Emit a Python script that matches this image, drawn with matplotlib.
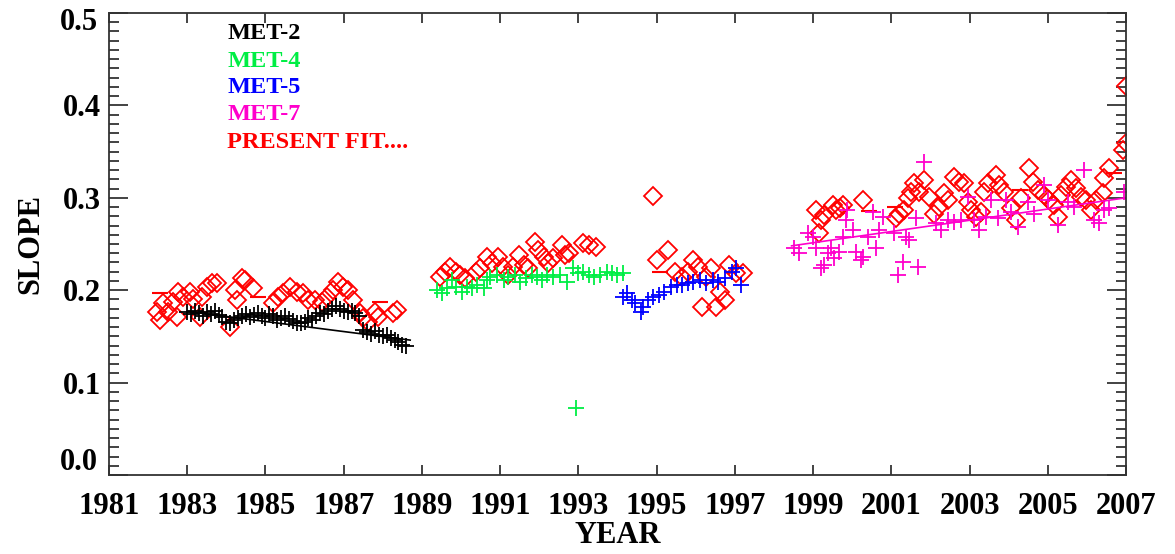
import matplotlib
matplotlib.use("Agg")
import matplotlib.pyplot as plt
from matplotlib.ticker import MultipleLocator, FixedLocator

# ---------------- data ----------------
met2_year = [1983.0, 1983.1, 1983.2, 1983.3, 1983.4, 1983.5, 1983.6, 1983.7, 1983.8, 1983.9,
             1984.0, 1984.1, 1984.2, 1984.3, 1984.4, 1984.5, 1984.6, 1984.7, 1984.8, 1984.9,
             1985.0, 1985.1, 1985.2, 1985.3, 1985.4, 1985.5, 1985.6, 1985.7, 1985.8, 1985.9,
             1986.0, 1986.1, 1986.2, 1986.3, 1986.4, 1986.5, 1986.6, 1986.7, 1986.8, 1986.9,
             1987.0, 1987.1, 1987.2, 1987.3, 1987.4, 1987.5, 1987.6, 1987.7, 1987.8, 1987.9,
             1988.0, 1988.1, 1988.2, 1988.3, 1988.4, 1988.5, 1988.6]
met2_slope = [0.176, 0.174, 0.177, 0.175, 0.172, 0.176, 0.174, 0.178, 0.173, 0.171,
              0.166, 0.165, 0.168, 0.170, 0.172, 0.174, 0.171, 0.173, 0.175, 0.172,
              0.170, 0.174, 0.172, 0.168, 0.170, 0.172, 0.169, 0.167, 0.165, 0.164,
              0.166, 0.170, 0.168, 0.172, 0.175, 0.174, 0.178, 0.180, 0.183, 0.180,
              0.178, 0.176, 0.178, 0.175, 0.172, 0.157, 0.155, 0.153, 0.156, 0.152,
              0.150, 0.152, 0.148, 0.146, 0.144, 0.141, 0.140]
met2_fit_year = [1983.0, 1988.7]
met2_fit_slope = [0.177, 0.146]

met4_year = [1989.39, 1989.52, 1989.65, 1989.78, 1989.86, 1990.03, 1990.16, 1990.29, 1990.42,
             1990.58, 1990.67, 1990.75, 1990.93, 1991.09, 1991.21, 1991.39, 1991.52, 1991.65,
             1991.82, 1991.95, 1992.08, 1992.21, 1992.36, 1992.54, 1992.72, 1992.85, 1992.93,
             1992.98, 1993.13, 1993.26, 1993.39, 1993.56, 1993.74, 1993.87, 1993.99, 1994.15]
met4_slope = [0.200, 0.197, 0.202, 0.211, 0.203, 0.198, 0.203, 0.202, 0.206,
              0.202, 0.211, 0.214, 0.216, 0.211, 0.214, 0.216, 0.209, 0.213,
              0.216, 0.214, 0.211, 0.216, 0.214, 0.216, 0.209, 0.224, 0.073,
              0.219, 0.220, 0.216, 0.214, 0.216, 0.220, 0.219, 0.216, 0.219]

met5_year = [1994.13, 1994.25, 1994.38, 1994.46, 1994.59, 1994.66, 1994.79, 1994.92, 1995.05,
             1995.18, 1995.36, 1995.53, 1995.66, 1995.79, 1995.94, 1996.12, 1996.25, 1996.43,
             1996.58, 1996.76, 1996.94, 1997.02, 1997.15]
met5_slope = [0.193, 0.197, 0.189, 0.186, 0.176, 0.182, 0.189, 0.193, 0.195,
              0.198, 0.203, 0.206, 0.206, 0.208, 0.209, 0.211, 0.208, 0.211,
              0.209, 0.213, 0.220, 0.224, 0.206]

met7_year = [1998.50, 1998.63, 1998.86, 1998.99, 1999.07, 1999.19, 1999.27, 1999.37, 1999.45,
             1999.53, 1999.65, 1999.76, 1999.83, 1999.88, 2000.01, 2000.09, 2000.22, 2000.27,
             2000.40, 2000.52, 2000.60, 2000.68, 2000.78, 2001.06, 2001.16, 2001.29, 2001.37,
             2001.45, 2001.63, 2001.67, 2001.83, 2002.14, 2002.26, 2002.44, 2002.60, 2002.78,
             2002.95, 2003.11, 2003.24, 2003.42, 2003.54, 2003.72, 2003.93, 2004.06, 2004.23,
             2004.49, 2004.64, 2004.90, 2005.00, 2005.26, 2005.51, 2005.67, 2005.92, 2006.18,
             2006.31, 2006.43, 2006.56, 2006.95]
met7_slope = [0.246, 0.240, 0.262, 0.258, 0.246, 0.224, 0.227, 0.240, 0.246,
              0.235, 0.241, 0.258, 0.276, 0.287, 0.265, 0.241, 0.233, 0.236,
              0.258, 0.285, 0.246, 0.265, 0.279, 0.262, 0.216, 0.231, 0.258,
              0.254, 0.278, 0.225, 0.339, 0.273, 0.265, 0.276, 0.274, 0.276,
              0.301, 0.276, 0.265, 0.279, 0.298, 0.278, 0.298, 0.285, 0.268,
              0.295, 0.283, 0.314, 0.298, 0.271, 0.295, 0.290, 0.330, 0.276,
              0.273, 0.287, 0.289, 0.306]
met7_fit_year = [1998.45, 2007.0]
met7_fit_slope = [0.248, 0.300]

fit_year = [1982.23, 1982.30, 1982.38, 1982.51, 1982.64, 1982.74, 1982.77, 1982.89, 1983.07,
            1983.15, 1983.33, 1983.38, 1983.51, 1983.64, 1983.76, 1984.10, 1984.22, 1984.28,
            1984.40, 1984.48, 1984.68, 1985.20, 1985.32, 1985.45, 1985.63, 1985.81, 1985.96,
            1986.09, 1986.27, 1986.45, 1986.58, 1986.73, 1986.86, 1986.99, 1987.12, 1987.24,
            1987.42, 1987.50, 1987.63, 1987.81, 1987.88, 1988.27, 1988.37,
            1989.47, 1989.60, 1989.73, 1989.86, 1989.98, 1990.11, 1990.37, 1990.49, 1990.67,
            1990.80, 1990.95, 1991.06, 1991.21, 1991.34, 1991.47, 1991.60, 1991.72, 1991.90,
            1991.98, 1992.11, 1992.23, 1992.36, 1992.59, 1992.67, 1992.75, 1993.13, 1993.26,
            1993.44,
            1994.90, 1995.02, 1995.28, 1995.48, 1995.66, 1995.79, 1995.92, 1996.05, 1996.17,
            1996.25, 1996.38, 1996.51, 1996.63, 1996.76, 1996.84, 1997.02, 1997.20,
            1999.07, 1999.14, 1999.19, 1999.27, 1999.50, 1999.58, 1999.70, 1999.76, 2000.27,
            2001.11, 2001.19, 2001.32, 2001.42, 2001.50, 2001.57, 2001.70, 2001.83, 2001.96,
            2002.08, 2002.21, 2002.34, 2002.44, 2002.60, 2002.72, 2002.85, 2002.95, 2003.03,
            2003.16, 2003.29, 2003.37, 2003.47, 2003.67, 2003.75, 2003.88, 2004.06, 2004.18,
            2004.31, 2004.52, 2004.62, 2004.75, 2004.90, 2005.03, 2005.16, 2005.26, 2005.34,
            2005.46, 2005.59, 2005.72, 2005.85, 2005.97, 2006.10, 2006.23, 2006.41, 2006.43,
            2006.56, 2006.92, 2007.00, 2007.00]
fit_slope = [0.176, 0.168, 0.186, 0.176, 0.187, 0.171, 0.198, 0.193, 0.198,
             0.191, 0.171, 0.193, 0.203, 0.208, 0.208, 0.160, 0.200, 0.189,
             0.213, 0.211, 0.202, 0.186, 0.193, 0.197, 0.203, 0.198, 0.197,
             0.189, 0.189, 0.187, 0.193, 0.200, 0.209, 0.203, 0.200, 0.189,
             0.175, 0.170, 0.166, 0.176, 0.171, 0.175, 0.179,
             0.214, 0.220, 0.225, 0.220, 0.216, 0.213, 0.220, 0.224, 0.236,
             0.229, 0.236, 0.225, 0.216, 0.225, 0.238, 0.227, 0.224, 0.252,
             0.243, 0.236, 0.229, 0.235, 0.249, 0.238, 0.240, 0.251, 0.249,
             0.247,
             0.302, 0.233, 0.244, 0.220, 0.214, 0.220, 0.233, 0.225, 0.182,
             0.214, 0.224, 0.182, 0.198, 0.189, 0.227, 0.219, 0.219,
             0.287, 0.262, 0.276, 0.281, 0.292, 0.287, 0.289, 0.292, 0.298,
             0.278, 0.283, 0.287, 0.300, 0.306, 0.316, 0.306, 0.319, 0.301,
             0.283, 0.290, 0.305, 0.298, 0.323, 0.317, 0.316, 0.295, 0.287,
             0.279, 0.285, 0.306, 0.316, 0.325, 0.314, 0.306, 0.289, 0.276,
             0.300, 0.332, 0.317, 0.308, 0.303, 0.298, 0.292, 0.279, 0.303,
             0.312, 0.319, 0.311, 0.301, 0.298, 0.287, 0.298, 0.305, 0.321,
             0.332, 0.352, 0.359, 0.421]
dash_year = [1982.30, 1984.80, 1987.93, 1995.08, 2000.42, 2001.10, 2004.30, 2006.70]
dash_slope = [0.197, 0.193, 0.187, 0.220, 0.286, 0.290, 0.308, 0.327]

legend_labels = ["MET-2", "MET-4", "MET-5", "MET-7", "PRESENT FIT...."]
legend_y = [0.478, 0.447, 0.419, 0.390, 0.360]

C_MET2 = "black"
C_MET4 = "#00ee44"
C_MET5 = "#0000ff"
C_MET7 = "#ff00cc"
C_FIT = "#ff0000"

# ---------------- figure ----------------
plt.rcParams['font.family'] = ['Liberation Serif', 'DejaVu Serif']
plt.rcParams['font.weight'] = 'bold'

fig = plt.figure(figsize=(11.75, 5.54), dpi=100)
W, H = 1175, 554
ax = fig.add_axes([109 / W, 1 - 475 / H, (1126 - 109) / W, (475 - 13) / H])

pms = dict(marker='+', linestyle='none', markersize=11, markeredgewidth=1.3)
ax.plot(fit_year, fit_slope, marker='D', linestyle='none', markersize=9,
        markerfacecolor='none', markeredgecolor=C_FIT, markeredgewidth=1.3)
ax.plot(dash_year, dash_slope, marker='_', linestyle='none', markersize=12,
        color=C_FIT, markeredgewidth=1.5)
ax.plot(met2_year, met2_slope, color=C_MET2, **pms)
ax.plot(met2_fit_year, met2_fit_slope, color=C_MET2, lw=1.2)
ax.plot(met4_year, met4_slope, color=C_MET4, **pms)
ax.plot(met5_year, met5_slope, color=C_MET5, **pms)
ax.plot(met7_year, met7_slope, color=C_MET7, **pms)
ax.plot(met7_fit_year, met7_fit_slope, color=C_MET7, lw=1.2)

ax.set_xlim(1981, 2007)
ax.set_ylim(0.0, 0.5)

xt = list(range(1981, 2008, 2))
ax.xaxis.set_major_locator(FixedLocator(xt))
ax.set_xticklabels([str(v) for v in xt])
ax.yaxis.set_minor_locator(MultipleLocator(0.01))
yt = [0.0, 0.1, 0.2, 0.3, 0.4, 0.5]
ax.set_yticks(yt)
ax.set_yticklabels(["" if v in (0.0, 0.5) else f"{v:.1f}" for v in yt])

# 0.0 and 0.5 labels sit slightly inside the axis range in the original
ax.annotate("0.0", xy=(0, 0.0), xycoords=('axes fraction', 'data'),
            xytext=(-8, 9), textcoords='offset points', ha='right', va='center',
            fontsize=22, fontweight='bold')
ax.annotate("0.5", xy=(0, 0.5), xycoords=('axes fraction', 'data'),
            xytext=(-8, -7), textcoords='offset points', ha='right', va='center',
            fontsize=22, fontweight='bold')

ax.tick_params(axis='both', which='both', direction='in', top=True, right=True,
               labelsize=22, width=1.2, colors='#222222', labelcolor='black')
ax.tick_params(axis='x', which='major', length=7, pad=12)
ax.tick_params(axis='y', which='major', length=14, pad=6)
ax.tick_params(axis='y', which='minor', length=7)
ax.tick_params(axis='x', which='minor', bottom=False, top=False)
for lab in ax.get_xticklabels() + ax.get_yticklabels():
    lab.set_fontweight('bold')
for s in ax.spines.values():
    s.set_linewidth(1.3)
    s.set_color('#333333')

ax.set_xlabel("YEAR", fontsize=22, fontweight='bold', labelpad=0)
ax.set_ylabel("SLOPE", fontsize=22, fontweight='bold', labelpad=12)

for lab, yy, col in zip(legend_labels, legend_y, [C_MET2, C_MET4, C_MET5, C_MET7, C_FIT]):
    ax.text(1984.02, yy, lab, color=col, fontsize=17.5, fontweight='bold',
            ha='left', va='center')

fig.savefig("out.png", dpi=100)
